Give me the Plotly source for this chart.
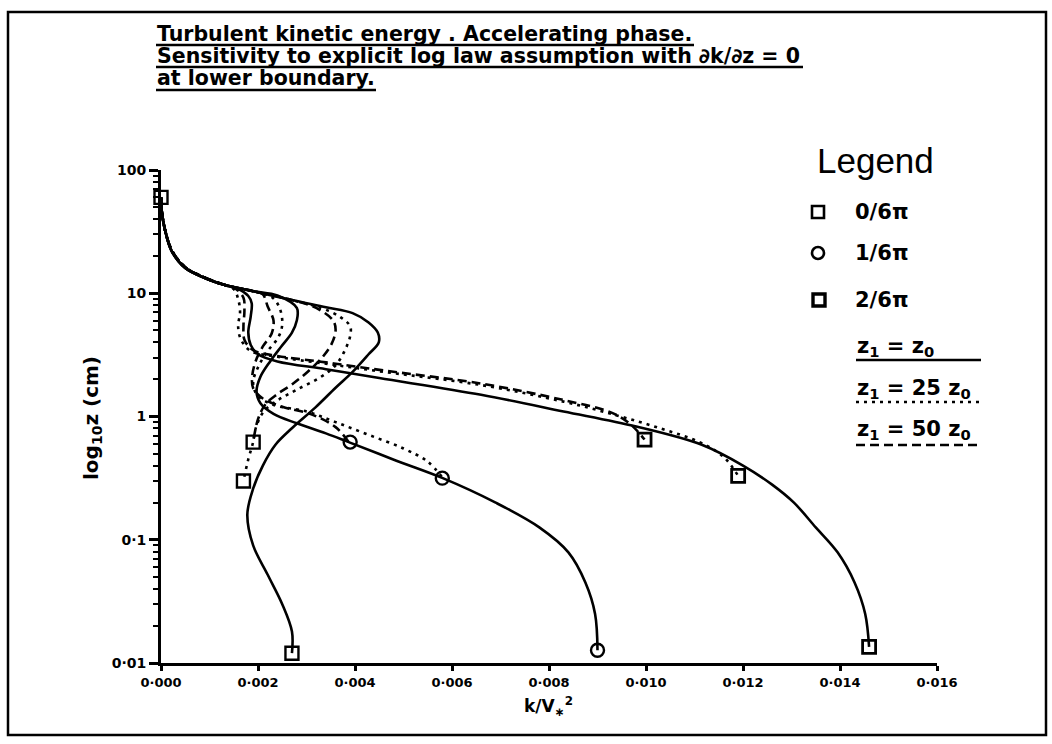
import plotly.graph_objects as go

# ---------------------------------------------------------------------------
# Turbulent kinetic energy profiles, k/V*^2 against height z (cm)
# Phases 0/6pi, 1/6pi, 2/6pi; lower boundary at z1 = z0, 25 z0, 50 z0
# ---------------------------------------------------------------------------

# phase 0/6pi
k_p0_z0 = [0, 0.00002, 0.00008, 0.00022, 0.0005, 0.0009, 0.0013, 0.0019, 0.0027, 0.0034,
           0.00395, 0.00428, 0.00447, 0.00449, 0.00428, 0.00395, 0.0036, 0.00318, 0.00271,
           0.00236, 0.0021, 0.0019, 0.00178, 0.0019, 0.0022, 0.0025, 0.0027, 0.0027]
z_p0_z0 = [60, 45, 33, 22, 16, 13.3, 11.7, 10.4, 8.8, 7.7, 6.9, 5.8, 4.8, 4.0, 3.2, 2.3,
           1.71, 1.18, 0.81, 0.59, 0.40, 0.26, 0.16, 0.09, 0.052, 0.03, 0.018, 0.012]

k_p0_25 = [0, 0.00002, 0.00008, 0.00023, 0.00052, 0.00092, 0.0013, 0.0019, 0.0027, 0.0033,
           0.0037, 0.0039, 0.0039, 0.0038, 0.0036, 0.0033, 0.0028, 0.0024, 0.00212,
           0.00196, 0.0019, 0.0018, 0.0017]
z_p0_25 = [60, 45, 33, 22, 16, 13.3, 11.7, 10.4, 8.8, 7.6, 6.4, 5.4, 4.5, 3.5, 2.6, 2.1,
           1.65, 1.35, 1.1, 0.82, 0.62, 0.45, 0.30]

k_p0_50 = [0, 0.00002, 0.00008, 0.00023, 0.00052, 0.00092, 0.0013, 0.0019, 0.0027, 0.0032,
           0.00355, 0.0036, 0.00352, 0.00332, 0.00302, 0.0027, 0.0024, 0.00215, 0.0020,
           0.0019]
z_p0_50 = [60, 45, 33, 22, 16, 13.3, 11.7, 10.4, 8.8, 7.6, 6.0, 5.0, 3.9, 3.0, 2.3, 1.82,
           1.52, 1.25, 0.95, 0.62]

# phase 1/6pi
k_p1_z0 = [0, 0.00002, 0.00008, 0.00022, 0.0005, 0.0009, 0.0013, 0.0019, 0.0024, 0.0028,
           0.0028, 0.0027, 0.00248, 0.00225, 0.00205, 0.00197, 0.00205, 0.00232, 0.0028,
           0.0034, 0.00387, 0.00484, 0.00581, 0.0069, 0.0078, 0.0084, 0.00875, 0.00895,
           0.0090]
z_p1_z0 = [60, 45, 33, 22, 16, 13.3, 11.7, 10.4, 9.6, 7.6, 6.0, 4.8, 3.7, 2.8, 2.1, 1.6,
           1.28, 1.05, 0.88, 0.73, 0.62, 0.44, 0.316, 0.20, 0.126, 0.079, 0.045, 0.025,
           0.0127]

k_p1_25 = [0, 0.00002, 0.00008, 0.00023, 0.00052, 0.00092, 0.0013, 0.0019, 0.0023, 0.00245,
           0.0025, 0.00242, 0.0022, 0.00202, 0.0019, 0.00198, 0.0023, 0.0030, 0.0036,
           0.00428, 0.0050, 0.0055, 0.00581]
z_p1_25 = [60, 45, 33, 22, 16, 13.3, 11.7, 10.4, 9.2, 7.5, 5.6, 4.4, 3.4, 2.6, 1.9, 1.5,
           1.25, 1.1, 0.9, 0.71, 0.55, 0.43, 0.316]

k_p1_50 = [0, 0.00002, 0.00008, 0.00023, 0.00052, 0.00092, 0.0013, 0.0019, 0.0021, 0.0022,
           0.00232, 0.00228, 0.0021, 0.00195, 0.00188, 0.0019, 0.0021, 0.0025, 0.0031,
           0.0036, 0.00387]
z_p1_50 = [60, 45, 33, 22, 16, 13.3, 11.7, 10.4, 9.8, 7.8, 6.0, 4.7, 3.7, 2.8, 2.1, 1.7,
           1.4, 1.2, 1.04, 0.82, 0.62]

# phase 2/6pi
k_p2_z0 = [0, 0.00002, 0.00008, 0.00022, 0.0005, 0.0009, 0.0013, 0.0016, 0.0018, 0.00187,
           0.00185, 0.0018, 0.00185, 0.0020, 0.0024, 0.0034, 0.0045, 0.0066, 0.0083, 0.0098,
           0.01115, 0.0120, 0.0126, 0.01305, 0.0135, 0.01395, 0.0143, 0.01452, 0.0146]
z_p2_z0 = [60, 45, 33, 22, 16, 13.3, 11.7, 10.8, 9.5, 8.3, 6.5, 4.8, 3.8, 3.2, 2.8, 2.42,
           2.05, 1.5, 1.1, 0.83, 0.59, 0.40, 0.28, 0.20, 0.126, 0.079, 0.045, 0.025, 0.0135]

k_p2_25 = [0, 0.00002, 0.00008, 0.00023, 0.00052, 0.00092, 0.0013, 0.0015, 0.00159, 0.00163,
           0.00159, 0.00165, 0.00185, 0.0024, 0.0034, 0.0046, 0.0066, 0.0083, 0.0094, 0.0103,
           0.0111, 0.0116, 0.0119]
z_p2_25 = [60, 45, 33, 22, 16, 13.3, 11.7, 10.8, 9.0, 7.0, 5.4, 4.2, 3.4, 3.05, 2.68, 2.3,
           1.8, 1.32, 1.02, 0.8, 0.62, 0.47, 0.33]

k_p2_50 = [0, 0.00002, 0.00008, 0.00023, 0.00052, 0.00092, 0.0013, 0.00155, 0.0017, 0.00172,
           0.0017, 0.00172, 0.0019, 0.0024, 0.0034, 0.0046, 0.0066, 0.0083, 0.0093, 0.0097,
           0.00997]
z_p2_50 = [60, 45, 33, 22, 16, 13.3, 11.7, 10.8, 9.2, 7.2, 5.4, 4.2, 3.45, 3.1, 2.75, 2.36,
           1.85, 1.36, 1.07, 0.85, 0.65]

# lower-boundary symbols
k_sq_p0 = [0, 0.0017, 0.0019, 0.0027]
z_sq_p0 = [60, 0.30, 0.62, 0.012]
k_ci_p1 = [0.0039, 0.0058, 0.0090]
z_ci_p1 = [0.62, 0.316, 0.0127]
k_sq_p2 = [0.00997, 0.0119, 0.0146]
z_sq_p2 = [0.65, 0.33, 0.0135]

# axis ticks
x_tickvals = [0, 0.002, 0.004, 0.006, 0.008, 0.010, 0.012, 0.014, 0.016]
x_ticktext = ["0·000", "0·002", "0·004", "0·006", "0·008", "0·010", "0·012", "0·014", "0·016"]
y_tickvals = [0.01, 0.1, 1, 10, 100]
y_ticktext = ["0·01", "0·1", "1", "10", "100"]
y_minor = [m * d for d in (0.01, 0.1, 1, 10) for m in range(2, 10)]

title_lines = ["Turbulent kinetic energy . Accelerating phase.",
               "Sensitivity to explicit log law assumption with ∂k/∂z = 0",
               "at lower boundary."]
phase_labels = ["0/6π", "1/6π", "2/6π"]
z1_labels = ["z<sub>1</sub> = z<sub>0</sub>", "z<sub>1</sub> = 25 z<sub>0</sub>",
             "z<sub>1</sub> = 50 z<sub>0</sub>"]

# ---------------------------------------------------------------------------
W, H = 1052, 744
ML, MR, MT, MB = 161, 115, 170, 81
PW, PH = W - ML - MR, H - MT - MB
FONT = "DejaVu Sans"
INK = "black"
DOT = "3px,5px"
DASH = "9px,5px"


def px(x):
    return (x - ML) / PW


def py(y):
    return (H - MB - y) / PH


fig = go.Figure()

curves = [
    (k_p0_z0, z_p0_z0, "solid"), (k_p0_25, z_p0_25, DOT), (k_p0_50, z_p0_50, DASH),
    (k_p1_z0, z_p1_z0, "solid"), (k_p1_25, z_p1_25, DOT), (k_p1_50, z_p1_50, DASH),
    (k_p2_z0, z_p2_z0, "solid"), (k_p2_25, z_p2_25, DOT), (k_p2_50, z_p2_50, DASH),
]
for k, z, dash in curves:
    fig.add_trace(go.Scatter(
        x=k, y=z, mode="lines",
        line=dict(color=INK, width=2.6, dash=dash, shape="spline", smoothing=1.0),
        showlegend=False, hoverinfo="skip", cliponaxis=False))

for k, z, sym, lw in [(k_sq_p0, z_sq_p0, "square-open", 2.4),
                      (k_ci_p1, z_ci_p1, "circle-open", 2.4),
                      (k_sq_p2, z_sq_p2, "square-open", 2.8)]:
    fig.add_trace(go.Scatter(
        x=k, y=z, mode="markers",
        marker=dict(symbol=sym, size=13, color=INK, line=dict(width=lw, color=INK)),
        showlegend=False, hoverinfo="skip", cliponaxis=False))

annotations = []
shapes = []

# title block with heavy underlines
for line, yc, yu, xe in zip(title_lines, [34, 56, 78], [45, 67, 90], [694, 803, 376]):
    annotations.append(dict(
        text=f"<b>{line}</b>", x=px(155), y=py(yc), xref="paper", yref="paper",
        xanchor="left", yanchor="middle", showarrow=False,
        font=dict(family=FONT, size=20.5, color=INK)))
    shapes.append(dict(type="line", xref="paper", yref="paper",
                       x0=px(156), x1=px(xe), y0=py(yu), y1=py(yu),
                       line=dict(color=INK, width=2.5)))

# axis titles
annotations.append(dict(
    text="<b>log<sub>10</sub>z (cm)</b>", x=px(92), y=py(418), xref="paper", yref="paper",
    textangle=-90, showarrow=False, xanchor="center", yanchor="middle",
    font=dict(family=FONT, size=20, color=INK)))
annotations.append(dict(
    text="<b>k/V<sub>∗</sub><sup>2</sup></b>", x=px(548), y=py(706), xref="paper",
    yref="paper", showarrow=False, xanchor="center", yanchor="middle",
    font=dict(family=FONT, size=17, color=INK)))

# legend block
annotations.append(dict(
    text="Legend", x=px(815), y=py(160), xref="paper", yref="paper", showarrow=False,
    xanchor="left", yanchor="middle",
    font=dict(family="Liberation Sans", size=35, color=INK)))
for lab, yc in zip(phase_labels, [212, 253, 300]):
    annotations.append(dict(
        text=f"<b>{lab}</b>", x=px(853), y=py(yc), xref="paper", yref="paper",
        showarrow=False, xanchor="left", yanchor="middle",
        font=dict(family=FONT, size=21, color=INK)))
for lab, yc in zip(z1_labels, [347, 389, 430]):
    annotations.append(dict(
        text=f"<b>{lab}</b>", x=px(855), y=py(yc), xref="paper", yref="paper",
        showarrow=False, xanchor="left", yanchor="middle",
        font=dict(family=FONT, size=21, color=INK)))

s = 6
shapes.append(dict(type="rect", xref="paper", yref="paper",
                   x0=px(818 - s), x1=px(818 + s), y0=py(212 - s), y1=py(212 + s),
                   line=dict(color=INK, width=2.6)))
shapes.append(dict(type="circle", xref="paper", yref="paper",
                   x0=px(818 - s), x1=px(818 + s), y0=py(253 - s), y1=py(253 + s),
                   line=dict(color=INK, width=2.6)))
shapes.append(dict(type="rect", xref="paper", yref="paper",
                   x0=px(819 - s), x1=px(819 + s), y0=py(300 - s), y1=py(300 + s),
                   line=dict(color=INK, width=3.4)))
for yl, dash in zip([360, 402, 445], ["solid", DOT, DASH]):
    shapes.append(dict(type="line", xref="paper", yref="paper",
                       x0=px(856), x1=px(981), y0=py(yl), y1=py(yl),
                       line=dict(color=INK, width=2.6, dash=dash)))

# outer frame
shapes.append(dict(type="rect", xref="paper", yref="paper",
                   x0=px(8), x1=px(1046), y0=py(12), y1=py(735),
                   line=dict(color=INK, width=2.5)))

fig.update_layout(
    width=W, height=H,
    margin=dict(l=ML, r=MR, t=MT, b=MB, pad=0),
    paper_bgcolor="white", plot_bgcolor="white",
    annotations=annotations, shapes=shapes,
    showlegend=False,
    xaxis=dict(
        range=[0, 0.016], tickvals=x_tickvals,
        ticktext=[f"<b>{t}</b>" for t in x_ticktext],
        ticks="outside", ticklen=5, tickwidth=2.5, tickcolor=INK,
        showline=True, linewidth=2.8, linecolor=INK,
        showgrid=False, zeroline=False,
        tickfont=dict(family=FONT, size=13, color=INK)),
    yaxis=dict(
        type="log", range=[-2, 2], tickvals=y_tickvals,
        ticktext=[f"<b>{t}</b>" for t in y_ticktext],
        ticks="outside", ticklen=9, tickwidth=2.5, tickcolor=INK,
        minor=dict(tickvals=y_minor, ticks="outside", ticklen=5, tickwidth=2,
                   tickcolor=INK),
        showline=True, linewidth=2.8, linecolor=INK,
        showgrid=False, zeroline=False,
        tickfont=dict(family=FONT, size=14, color=INK)),
)

fig.write_html("out.html")
